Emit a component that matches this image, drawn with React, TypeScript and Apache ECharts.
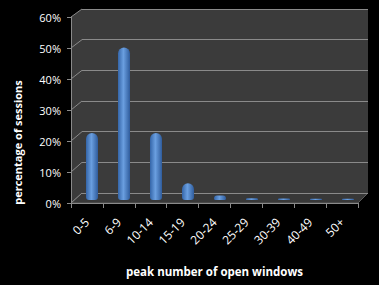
import React, { useEffect, useRef } from "react";
import * as echarts from "echarts";

const categories = ["0-5", "6-9", "10-14", "15-19", "20-24", "25-29", "30-39", "40-49", "50+"];
const sessionShare = [22, 50, 22, 5.5, 1.5, 0.6, 0.5, 0.4, 0.4];
const yTicks = [0, 10, 20, 30, 40, 50, 60];

export default function App() {
  const ref = useRef<HTMLDivElement>(null);
  useEffect(() => {
    document.body.style.margin = "0";
    document.body.style.background = "#000";
    const chart = echarts.init(ref.current!, null, { renderer: "svg" });
    const W = 379, H = 285;
    const back = { left: 82, right: 11, top: 9, bottom: 92 };
    const front = { left: 71, right: 21, top: 17, bottom: 82 };
    const mid = { left: 76, right: 15, top: 17, bottom: 85 };
    const wallFill = "#3b3b3b";
    const lineCol = "#8a8a8a";
    const bx0 = back.left, bx1 = W - back.right, by0 = back.top, by1 = H - back.bottom;
    const fx0 = front.left, fx1 = W - front.right, fy0 = front.top, fy1 = H - front.bottom;
    const connectors = yTicks.map((t) => {
      const yb = by1 - ((by1 - by0) * t) / 60;
      const yf = fy1 - ((fy1 - fy0) * t) / 60;
      return {
        type: "line",
        shape: { x1: fx0, y1: yf, x2: bx0, y2: yb },
        style: { stroke: lineCol, lineWidth: 1 },
        z: 1,
      };
    });
    chart.setOption({
      animation: false,
      backgroundColor: "#000",
      textStyle: { fontFamily: "Open Sans" },
      graphic: [
        {
          type: "polygon",
          shape: { points: [[fx0, fy0], [bx0, by0], [bx0, by1], [fx0, fy1]] },
          style: { fill: wallFill },
          z: -1,
        },
        {
          type: "polygon",
          shape: { points: [[fx0, fy1], [bx0, by1], [bx1, by1], [fx1, fy1]] },
          style: { fill: "#383838", stroke: "#5a5a5a", lineWidth: 1 },
          z: -1,
        },
        ...connectors,
        {
          type: "text",
          left: 12,
          top: "middle",
          rotation: Math.PI / 2,
          style: {
            text: "percentage of sessions",
            fill: "#fff",
            font: "bold 11px 'Open Sans'",
          },
        },
      ],
      grid: [
        { ...back, show: true, backgroundColor: wallFill, borderWidth: 0 },
        { ...front },
        { ...mid },
      ],
      xAxis: [
        { gridIndex: 0, type: "category", data: categories, show: false },
        {
          gridIndex: 1,
          type: "category",
          data: categories,
          axisLine: { lineStyle: { color: lineCol } },
          axisTick: { show: true, length: 5, lineStyle: { color: lineCol } },
          axisLabel: { color: "#fff", fontSize: 12, rotate: 45, margin: 17, interval: 0 },
          name: "peak number of open windows",
          nameLocation: "middle",
          nameGap: 62,
          nameTextStyle: { color: "#fff", fontWeight: "bold", fontSize: 11.5 },
        },
        { gridIndex: 2, type: "category", data: categories, show: false },
      ],
      yAxis: [
        {
          gridIndex: 0,
          type: "value",
          min: 0,
          max: 60,
          interval: 10,
          axisLabel: { show: false },
          axisLine: { show: false },
          axisTick: { show: false },
          splitLine: { lineStyle: { color: lineCol, width: 1 } },
        },
        {
          gridIndex: 1,
          type: "value",
          min: 0,
          max: 60,
          interval: 10,
          axisLine: { show: true, lineStyle: { color: lineCol } },
          axisTick: { show: true, length: 4, lineStyle: { color: lineCol } },
          axisLabel: { color: "#fff", fontSize: 11, formatter: "{value}%", margin: 10 },
          splitLine: { show: false },
        },
        { gridIndex: 2, type: "value", min: 0, max: 60, show: false, splitLine: { show: false } },
      ],
      series: [
        {
          type: "bar",
          xAxisIndex: 2,
          yAxisIndex: 2,
          data: sessionShare,
          barWidth: 12,
          itemStyle: {
            borderRadius: [6, 6, 3, 3],
            color: new echarts.graphic.LinearGradient(0, 0, 1, 0, [
              { offset: 0, color: "#3465a8" },
              { offset: 0.45, color: "#6a9fe0" },
              { offset: 1, color: "#2f5c9c" },
            ]),
          },
          z: 5,
        },
      ],
    });
    return () => chart.dispose();
  }, []);
  return <div ref={ref} style={{ width: 379, height: 285 }} />;
}
